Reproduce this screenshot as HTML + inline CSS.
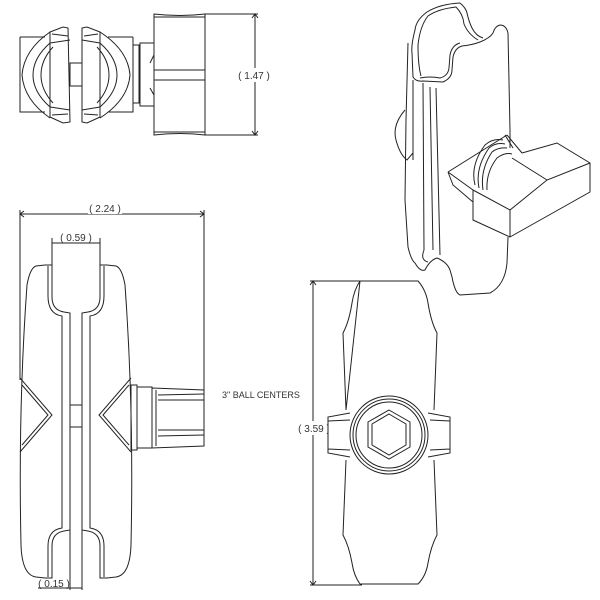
<!DOCTYPE html>
<html><head><meta charset="utf-8"><style>
html,body{margin:0;padding:0;background:#fff}
svg{display:block}
text{font-family:"Liberation Sans",sans-serif;fill:#333}
</style></head><body>
<svg width="600" height="600" viewBox="0 0 600 600" fill="none" stroke="#222" stroke-width="1">
<!-- TOP LEFT VIEW -->
<g>
<path d="M20,37 L45,37 M20,37 L20,112 L45,112"/>
<path d="M50,32 Q24,50 22,75 Q24,100 50,118"/>
<path d="M50,32 L63,27 L68,28 L70,122 L63,123 L50,117 Z"/>
<path d="M50,43 Q33,58 33,75 Q33,92 50,107"/>
<path d="M53,47 Q41,60 41,75 Q41,90 53,103"/>
<path d="M50,43 L70,40 M50,107 L70,110 M52,34 L68,36 M52,115 L68,114"/>
<rect x="70" y="63" width="12" height="23"/>
<path d="M133,37 L108,37 M133,37 L133,112 L108,112"/>
<path d="M100,32 Q128,50 130,75 Q128,100 100,118"/>
<path d="M100,32 L87,27 L82,28 L82,122 L87,123 L100,117 Z"/>
<path d="M100,43 Q117,58 117,75 Q117,92 100,107"/>
<path d="M97,47 Q109,60 109,75 Q109,90 97,103"/>
<path d="M100,43 L82,40 M100,107 L82,110 M98,34 L84,36 M98,115 L84,114"/>
<rect x="133" y="45" width="6" height="58"/>
<rect x="140" y="43" width="14" height="63"/>
<path d="M154,14 Q180,17 205,14 L205,135 Q180,132 154,135 Z"/>
<path d="M154,70 L205,70 M154,80 L205,80 M154,17 L205,17 M154,132 L205,132"/>
<path d="M154,55 L150,63 M154,95 L150,88"/>
<path d="M205,14 L258,14 M205,135 L258,135 M255,14 L255,135 M252,18 L255,14 L258,18 M252,131 L255,135 L258,131"/>
<rect x="238" y="68" width="32" height="14" fill="#fff" stroke="none"/>
<text x="254" y="79" font-size="10" text-anchor="middle" stroke="none">( 1.47 )</text>
</g>

<!-- BOTTOM LEFT VIEW -->
<g>
<path d="M20,210 L20,380 M204,210 L204,390 M20,214 L204,214 M24,211 L20,214 L24,217 M200,211 L204,214 L200,217"/>
<rect x="88" y="202" width="34" height="12" fill="#fff" stroke="none"/>
<text x="105" y="212" font-size="10" text-anchor="middle" stroke="none">( 2.24 )</text>
<path d="M52,238 L52,265 M100,238 L100,265 M52,243 L100,243"/>
<text x="76" y="241" font-size="10" text-anchor="middle" stroke="none">( 0.59 )</text>
<path d="M45,265 L36,266 Q30,268 27,285 Q18,410 21,545 Q22,575 36,577 L45,578"/>
<path d="M45,265 L52,265 L52,297 Q52,310 64,312 L70,313 L70,432"/>
<path d="M45,578 L52,578 L52,546 Q52,533 64,531 L70,530 L70,432"/>
<path d="M48,266 L48,296 Q48,314 62,316 L62,528 Q48,530 48,546 L48,577"/>
<path d="M107,265 L116,266 Q122,268 125,285 Q134,410 131,545 Q130,575 116,577 L107,578"/>
<path d="M107,265 L100,265 L100,297 Q100,310 88,312 L82,313 L82,432"/>
<path d="M107,578 L100,578 L100,546 Q100,533 88,531 L82,530 L82,432"/>
<path d="M104,266 L104,296 Q104,314 90,316 L90,528 Q104,530 104,546 L104,577"/>
<rect x="70" y="405" width="12" height="22"/>
<path d="M20,378 L52,415 L20,452 M22,385 L48,415 L22,445"/>
<path d="M131,378 L99,415 L131,452 M129,385 L103,415 L129,445"/>
<rect x="131" y="385" width="6" height="65"/>
<rect x="137" y="387" width="15" height="61"/>
<path d="M152,388 L204,390 L204,446 L152,448 Z"/>
<path d="M156,390 L156,446 M158,395 L204,394 M158,400 L204,400 M158,430 L204,430 M158,436 L204,435"/>
<text x="222" y="398" font-size="9" stroke="none">3" BALL CENTERS</text>
<path d="M70,432 L70,590 M82,432 L82,590 M38,588 L82,588"/>
<text x="54" y="587" font-size="10" text-anchor="middle" stroke="none">( 0.15 )</text>
</g>

<!-- BOTTOM RIGHT VIEW -->
<g>
<path d="M313,281 L313,585 M310,281 L362,281 M310,585 L362,585 M310,285 L313,281 L316,285 M310,581 L313,585 L316,581"/>
<rect x="300" y="421" width="28" height="14" fill="#fff" stroke="none"/>
<text x="314" y="432" font-size="10" text-anchor="middle" stroke="none">( 3.59 )</text>
<path d="M360,281 L418,281 Q426,290 428,303 Q431,322 437,333 L434,410 M434,460 L437,535 Q431,546 428,563 Q426,576 418,584 L360,584 Q354,576 352,563 Q349,546 343,535 L346,460 M346,410 L343,333 Q349,322 352,303 Q354,290 360,281 Z"/>
<path d="M350,413 L328,417 L328,453 L350,457 M328,421 L350,420 M328,449 L350,450" fill="#fff"/>
<path d="M428,413 L450,417 L450,453 L428,457 M450,421 L430,420 M450,449 L430,450" fill="#fff"/>
<circle cx="389" cy="435" r="39" fill="#fff"/>
<circle cx="389" cy="435" r="36"/>
<circle cx="389" cy="435" r="33"/>
<path d="M389,410 L410,422 L410,447 L389,459 L368,447 L368,422 Z"/>
<path d="M389,414 L406,424 L406,445 L389,455 L372,445 L372,424 Z"/>
</g>

<!-- TOP RIGHT ISO VIEW -->
<g>
<!-- loop outer -->
<path d="M460,3 Q440,4 427,12 Q416,20 415,30 Q411,45 412,53 L413,77 Q416,82 423,81 L443,82 Q452,78 452,70 L453,57 Q455,48 462,46 Q472,45 480,42 Q490,38 493,33 Q495,26 500,25 Q506,25 508,33 L510,130 L510,148"/>
<path d="M460,3 Q466,8 467,13 Q469,22 472,28 Q476,36 483,38"/>
<path d="M456,7 Q438,9 428,16 Q420,26 418,45 Q418,65 421,76 M456,7 Q463,14 464,24 Q468,34 478,40"/>
<path d="M420,78 Q430,76 440,78 Q448,76 449,68 L450,55 Q452,45 460,43"/>
<!-- front plate -->
<path d="M408,43 L406,120 L405,200 L408,247 Q411,260 415,263 Q420,272 425,270 Q430,260 437,258 Q447,262 450,270 L452,277 Q455,293 460,295 L490,293 Q505,285 507,263 L508,237"/>
<path d="M413,80 L413,160 M423,83 L424,250 M430,87 L433,250 M436,88 L440,255 M424,250 Q420,260 428,262"/>
<!-- wing -->
<path d="M405,110 Q392,125 396,140 Q400,155 407,160 L413,153"/>
<!-- threads -->
<path d="M475,185 Q470,165 485,145 Q493,138 503,140 M479,188 Q475,168 489,148 Q496,142 505,144 M483,190 Q480,170 492,152 Q498,147 507,148 M487,190 Q486,172 497,158 Q505,152 512,154"/>
<path d="M505,135 L513,148"/>
<!-- box -->
<path d="M448,172 L507,135 M448,172 L453,185 L473,202 M473,190 L473,220 L510,237 L590,192 L590,163 L557,143 L522,153 M473,190 L448,172"/>
<path d="M473,190 L510,210 L547,180 L590,163 M510,210 L510,237 M512,158 L547,180 M507,135 L522,153"/>
</g>
</svg>
</body></html>
